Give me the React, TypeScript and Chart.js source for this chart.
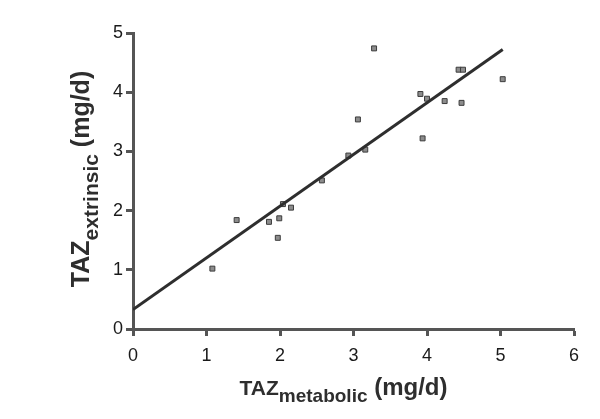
import React, { useEffect, useRef } from "react";
import { Chart, registerables } from "chart.js";

Chart.register(...registerables);

const xValues = [1.08, 1.41, 1.85, 1.99, 1.97, 2.15, 2.04, 2.57, 2.93, 3.16, 3.06, 3.28, 3.94, 3.91, 4.0, 4.24, 4.47, 4.43, 4.49, 5.03];
const yValues = [1.02, 1.84, 1.81, 1.87, 1.54, 2.05, 2.11, 2.51, 2.93, 3.03, 3.54, 4.74, 3.22, 3.97, 3.89, 3.85, 3.82, 4.38, 4.38, 4.22];
const fitX = [0, 5.03];
const fitY = [0.33, 4.72];
const xTickValues = [0, 1, 2, 3, 4, 5, 6];
const yTickValues = [0, 1, 2, 3, 4, 5];
const xTitle = { main: "TAZ", sub: "metabolic", unit: " (mg/d)" };
const yTitle = { main: "TAZ", sub: "extrinsic", unit: " (mg/d)" };

const FONT = '"Liberation Sans", Arial, Helvetica, sans-serif';

function drawTitle(
  ctx: CanvasRenderingContext2D,
  t: { main: string; sub: string; unit: string },
  sizes: [number, number, number],
  subDrop: number
) {
  const [a, b, c] = sizes;
  ctx.font = `bold ${a}px ${FONT}`;
  const w1 = ctx.measureText(t.main).width;
  ctx.font = `bold ${b}px ${FONT}`;
  const w2 = ctx.measureText(t.sub).width;
  ctx.font = `bold ${c}px ${FONT}`;
  const w3 = ctx.measureText(t.unit).width;
  const total = w1 + w2 + w3;
  let x = -total / 2;
  ctx.textBaseline = "alphabetic";
  ctx.textAlign = "left";
  ctx.font = `bold ${a}px ${FONT}`;
  ctx.fillText(t.main, x, 0);
  x += w1;
  ctx.font = `bold ${b}px ${FONT}`;
  ctx.fillText(t.sub, x, subDrop);
  x += w2;
  ctx.font = `bold ${c}px ${FONT}`;
  ctx.fillText(t.unit, x, 0);
}

const titlePlugin = {
  id: "subTitles",
  afterDraw(chart: any) {
    const ctx = chart.ctx as CanvasRenderingContext2D;
    const area = chart.chartArea;
    ctx.save();
    ctx.fillStyle = "#2e2e2e";
    // x title
    ctx.save();
    ctx.translate((area.left + area.right) / 2 - 10, 395);
    drawTitle(ctx, xTitle, [21, 19, 24], 7);
    ctx.restore();
    // y title
    ctx.save();
    ctx.translate(89, (area.top + area.bottom) / 2 - 2);
    ctx.rotate(-Math.PI / 2);
    drawTitle(ctx, yTitle, [25, 21, 25], 9);
    ctx.restore();
    ctx.restore();
  },
};

export default function App() {
  const ref = useRef<HTMLCanvasElement>(null);
  useEffect(() => {
    if (!ref.current) return;
    const points = xValues.map((x, i) => ({ x, y: yValues[i] }));
    const line = fitX.map((x, i) => ({ x, y: fitY[i] }));
    const axisColor = "#555555";
    const chart = new Chart(ref.current, {
      type: "scatter",
      data: {
        datasets: [
          {
            type: "line",
            data: line,
            borderColor: "#2e2e2e",
            borderWidth: 3,
            pointRadius: 0,
            fill: false,
          } as any,
          {
            data: points,
            pointStyle: "rect",
            pointRadius: 3.5,
            backgroundColor: "#8c8c8c",
            borderColor: "#3c3c3c",
            borderWidth: 1,
          },
        ],
      },
      options: {
        animation: false,
        responsive: false,
        maintainAspectRatio: false,
        layout: { padding: { top: 33, right: 26, left: 0, bottom: 0 } },
        plugins: { legend: { display: false }, tooltip: { enabled: false } },
        scales: {
          x: {
            type: "linear",
            min: 0,
            max: 6,
            afterBuildTicks: (s: any) => {
              s.ticks = xTickValues.map((v) => ({ value: v }));
            },
            afterFit: (s: any) => {
              s.height = 90;
            },
            ticks: {
              stepSize: 1,
              padding: 9,
              color: "#1a1a1a",
              font: { family: FONT, size: 18 },
            },
            grid: {
              drawOnChartArea: false,
              drawTicks: true,
              tickLength: 7,
              tickWidth: 3,
              tickColor: axisColor,
            },
            border: { display: true, color: axisColor, width: 3 },
          },
          y: {
            type: "linear",
            min: 0,
            max: 5,
            afterBuildTicks: (s: any) => {
              s.ticks = yTickValues.map((v) => ({ value: v }));
            },
            afterFit: (s: any) => {
              s.width = 133;
            },
            ticks: {
              stepSize: 1,
              padding: 3,
              color: "#1a1a1a",
              font: { family: FONT, size: 18 },
            },
            grid: {
              drawOnChartArea: false,
              drawTicks: true,
              tickLength: 7,
              tickWidth: 3,
              tickColor: axisColor,
            },
            border: { display: true, color: axisColor, width: 3 },
          },
        },
      },
      plugins: [titlePlugin],
    });
    return () => chart.destroy();
  }, []);
  return (
    <div style={{ position: "fixed", left: 0, top: 0, width: 600, height: 419, background: "#fff" }}>
      <canvas ref={ref} width={600} height={419} style={{ width: 600, height: 419 }} />
    </div>
  );
}
